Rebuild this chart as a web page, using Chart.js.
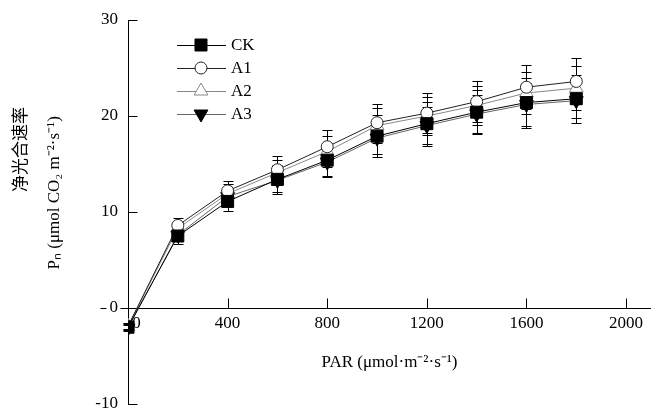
<!DOCTYPE html>
<html>
<head>
<meta charset="utf-8">
<script src="https://cdn.jsdelivr.net/npm/chart.js@4"></script>
<style>
  html, body { margin: 0; padding: 0; background: #fff; }
</style>
</head>
<body>
<canvas id="chart" width="651" height="415"></canvas>
<script>
// data
const par = [0, 200, 400, 600, 800, 1000, 1200, 1400, 1600, 1800];
const ck = [-2.0, 7.5, 11.1, 13.4, 15.4, 17.9, 19.2, 20.4, 21.4, 21.8];
const a1 = [-1.9, 8.6, 12.2, 14.4, 16.8, 19.3, 20.3, 21.5, 23.0, 23.6];
const a2 = [-1.9, 8.3, 11.9, 14.1, 16.3, 19.0, 20.0, 21.1, 22.4, 22.9];
const a3 = [-2.1, 7.6, 11.6, 13.3, 15.2, 17.7, 19.0, 20.2, 21.2, 21.6];
const ckErr = [0.3, 0.8, 1.0, 1.5, 1.8, 2.2, 2.3, 2.3, 2.6, 2.5];
const a1Err = [0.3, 0.8, 1.0, 1.4, 1.7, 1.9, 2.1, 2.1, 2.3, 2.4];
const a2Err = [0.3, 0.7, 1.0, 1.3, 1.6, 1.8, 2.0, 2.0, 2.2, 2.3];
const a3Err = [0.3, 0.6, 0.9, 1.2, 1.5, 1.7, 1.9, 2.0, 2.2, 1.8];
const xTicks = [0, 400, 800, 1200, 1600, 2000];
const yTicks = [-10, 0, 10, 20, 30];
const yTitle = ["净光合速率", "Pₙ (μmol CO₂ m⁻²·s⁻¹)"];

const FONT = '"Liberation Serif", "Noto Sans CJK SC", serif';
Chart.defaults.font.family = FONT;
Chart.defaults.font.size = 17;
Chart.defaults.color = "#000";

function series(label, values, errs, style, color, fill, rotation) {
  return {
    label: label,
    data: par.map((x, i) => ({ x: x, y: values[i] })),
    errors: errs,
    borderColor: color,
    borderWidth: 1,
    pointStyle: style,
    pointRotation: rotation || 0,
    pointRadius: style === "circle" ? 6 : (style === "rect" ? 8.5 : 8),
    pointBorderColor: fill ? "#000" : color,
    pointBackgroundColor: fill ? "#000" : "#fff",
    pointBorderWidth: 1,
    tension: 0
  };
}

// error bars, drawn through the y scale
const errorBars = {
  id: "errorBars",
  beforeDatasetsDraw(chart) {
    const ctx = chart.ctx;
    const yScale = chart.scales.y;
    ctx.save();
    ctx.strokeStyle = "#000";
    ctx.lineWidth = 1;
    chart.data.datasets.forEach((ds, di) => {
      const meta = chart.getDatasetMeta(di);
      meta.data.forEach((pt, i) => {
        const v = ds.data[i].y, e = ds.errors[i];
        const top = Math.round(yScale.getPixelForValue(v + e)) + 0.5;
        const bot = Math.round(yScale.getPixelForValue(v - e)) + 0.5;
        const x = Math.round(pt.x) + 0.5;
        ctx.beginPath();
        ctx.moveTo(x, top); ctx.lineTo(x, bot);
        ctx.moveTo(x - 5, top); ctx.lineTo(x + 5, top);
        ctx.moveTo(x - 5, bot); ctx.lineTo(x + 5, bot);
        ctx.stroke();
      });
    });
    ctx.restore();
  }
};

// inward tick marks, the stub of the x axis and the two-line y title
const axisExtras = {
  id: "axisExtras",
  beforeDatasetsDraw(chart) {
    const ctx = chart.ctx;
    const xs = chart.scales.x, ys = chart.scales.y;
    const x0 = Math.round(xs.left) + 0.5;
    const y0 = Math.round(ys.getPixelForValue(0)) + 0.5;
    ctx.save();
    ctx.strokeStyle = "#000";
    ctx.lineWidth = 1;
    ctx.beginPath();
    yTicks.forEach(v => {
      const y = Math.round(ys.getPixelForValue(v)) + 0.5;
      ctx.moveTo(x0, y); ctx.lineTo(x0 + 9, y);
    });
    xTicks.forEach(v => {
      const x = Math.round(xs.getPixelForValue(v)) + 0.5;
      ctx.moveTo(x, y0); ctx.lineTo(x, y0 - 10);
    });
    ctx.moveTo(x0 - 28, y0); ctx.lineTo(x0 - 22, y0);
    ctx.moveTo(x0 - 8, y0); ctx.lineTo(x0, y0);
    ctx.stroke();

    ctx.fillStyle = "#000";
    ctx.textAlign = "center";
    ctx.textBaseline = "middle";
    ctx.font = "17px " + FONT;
    ctx.translate(22, ys.getPixelForValue(16.5));
    ctx.rotate(-Math.PI / 2);
    ctx.fillText(yTitle[0], 0, 0);
    ctx.rotate(Math.PI / 2);
    ctx.translate(33, ys.getPixelForValue(12) - ys.getPixelForValue(16.5));
    ctx.rotate(-Math.PI / 2);
    ctx.fillText(yTitle[1], 0, 0);
    ctx.restore();
  }
};

// legend: short line with the marker on it
const lineLegend = {
  id: "lineLegend",
  afterDraw(chart) {
    const ctx = chart.ctx;
    const area = chart.chartArea;
    const lx = area.left + 49, rx = area.left + 98, mx = area.left + 73;
    ctx.save();
    chart.data.datasets.forEach((ds, i) => {
      const y = area.top + 25 + i * 23;
      ctx.strokeStyle = ds.borderColor;
      ctx.lineWidth = 1;
      ctx.beginPath();
      ctx.moveTo(lx, y + 0.5); ctx.lineTo(rx, y + 0.5);
      ctx.stroke();
      ctx.fillStyle = ds.pointBackgroundColor;
      ctx.strokeStyle = ds.pointBorderColor;
      Chart.helpers.drawPoint(ctx, {
        pointStyle: ds.pointStyle, rotation: ds.pointRotation,
        radius: ds.pointRadius, borderWidth: 1
      }, mx, y);
      ctx.fillStyle = "#000";
      ctx.font = "17px " + FONT;
      ctx.textBaseline = "middle";
      ctx.fillText(ds.label, rx + 5, y + 1);
    });
    ctx.restore();
  }
};

new Chart(document.getElementById("chart"), {
  type: "line",
  data: {
    datasets: [
      series("CK", ck, ckErr, "rect", "#000", true),
      series("A1", a1, a1Err, "circle", "#222", false),
      series("A2", a2, a2Err, "triangle", "#888", false),
      series("A3", a3, a3Err, "triangle", "#666", true, 180)
    ]
  },
  options: {
    responsive: false,
    animation: false,
    layout: { autoPadding: false, padding: { top: 20, bottom: 11, left: 0, right: 0 } },
    plugins: { legend: { display: false }, tooltip: { enabled: false } },
    scales: {
      x: {
        type: "linear",
        min: 0, max: 2100,
        position: { y: 0 },
        afterBuildTicks: s => { s.ticks = xTicks.map(v => ({ value: v })); },
        afterFit: s => { s.paddingLeft = 0; s.paddingRight = 0; },
        grid: { display: false, drawTicks: false },
        border: { display: true, color: "#000", width: 1 },
        ticks: {
          padding: 5, maxRotation: 0, autoSkip: false, color: "#000",
          callback: v => (v === 0 ? "    0" : String(v))
        },
        title: {
          display: true, text: "PAR (μmol·m⁻²·s⁻¹)", color: "#000",
          padding: { top: 14, bottom: 0 }
        }
      },
      y: {
        min: -10, max: 30,
        afterBuildTicks: s => { s.ticks = yTicks.map(v => ({ value: v })); },
        afterFit: s => { s.width = 128; s.paddingTop = 0; s.paddingBottom = 0; },
        grid: { display: false, drawTicks: false },
        border: { display: true, color: "#000", width: 1 },
        ticks: { padding: 10, color: "#000", callback: v => String(v) },
        title: { display: false }
      }
    }
  },
  plugins: [errorBars, axisExtras, lineLegend]
});
</script>
</body>
</html>
